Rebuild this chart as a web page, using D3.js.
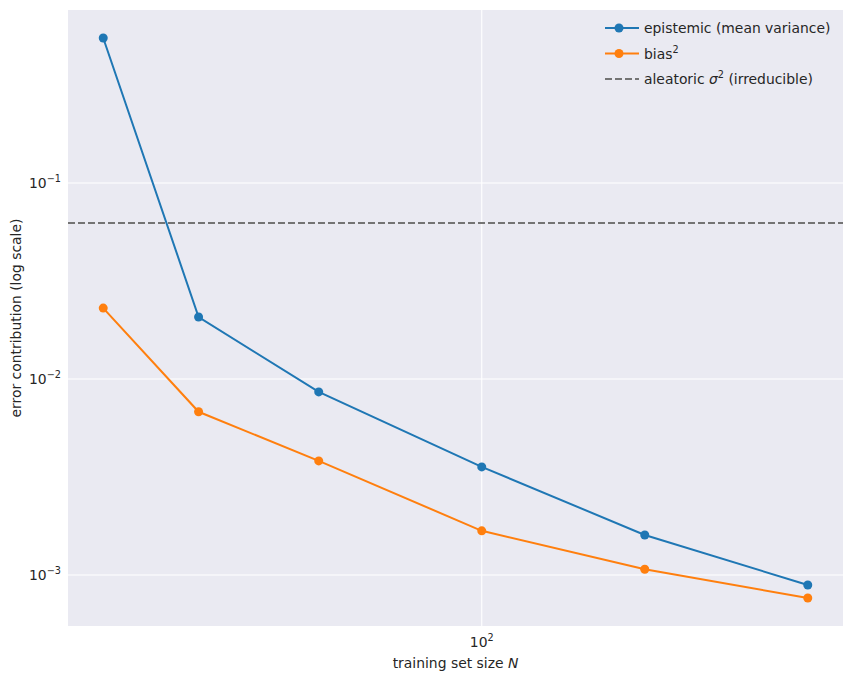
<!DOCTYPE html>
<html>
<head>
<meta charset="utf-8">
<script src="https://cdn.jsdelivr.net/npm/d3@7"></script>
<style>
  body { margin: 0; background: #fff; }
  text { font-family: "DejaVu Sans", sans-serif; fill: #262626; }
</style>
</head>
<body>
<div id="chart"></div>
<script>
// Data
const trainSizes = [20, 30, 50, 100, 200, 400];
const epistemic = [0.549, 0.0207, 0.00859, 0.00356, 0.0016, 0.000889];
const biasSq = [0.023, 0.0068, 0.00382, 0.00168, 0.00107, 0.000763];
const aleatoric = 0.0625;
const xTicks = [100];
const yTicks = [0.001, 0.01, 0.1];
const legendItems = [
    {label: "epistemic (mean variance)", sup: null, color: "#1f77b4", dashed: false},
    {label: "bias", sup: "2", color: "#ff7f0e", dashed: false},
    {label: "aleatoric ", sup: "2", sigma: true, tail: " (irreducible)", color: "#747474", dashed: true}
];

function drawChart() {
    const W = 852, H = 683;
    const fs = "13.9px", sfs = "9.7px";
    const margin = {top: 10, right: 9, bottom: 57, left: 68},
        width = W - margin.left - margin.right,
        height = H - margin.top - margin.bottom;

    const svg = d3.select("#chart").append("svg")
        .attr("width", W)
        .attr("height", H);

    const g = svg.append("g")
        .attr("transform", `translate(${margin.left},${margin.top})`);

    // log scales with 5% padding in log space, like matplotlib
    const pad = (lo, hi) => {
        const a = Math.log10(lo), b = Math.log10(hi), m = (b - a) * 0.05;
        return [Math.pow(10, a - m), Math.pow(10, b + m)];
    };
    const x = d3.scaleLog()
        .domain(pad(d3.min(trainSizes), d3.max(trainSizes)))
        .range([0, width]);
    const allY = epistemic.concat(biasSq);
    const y = d3.scaleLog()
        .domain(pad(d3.min(allY), d3.max(allY)))
        .range([height, 0]);

    // background
    g.append("rect")
        .attr("width", width)
        .attr("height", height)
        .attr("fill", "#eaeaf2");

    // grid
    g.selectAll(".gx").data(xTicks).enter().append("line")
        .attr("x1", d => x(d)).attr("x2", d => x(d))
        .attr("y1", 0).attr("y2", height)
        .attr("stroke", "#fff").attr("stroke-width", 1.1);
    g.selectAll(".gy").data(yTicks).enter().append("line")
        .attr("x1", 0).attr("x2", width)
        .attr("y1", d => y(d)).attr("y2", d => y(d))
        .attr("stroke", "#fff").attr("stroke-width", 1.1);

    // tick labels
    const xt = g.selectAll(".xt").data(xTicks).enter().append("text")
        .attr("x", d => x(d))
        .attr("y", height + 21)
        .attr("text-anchor", "middle")
        .style("font-size", fs);
    xt.append("tspan").text(d => "10");
    xt.append("tspan").attr("dy", -6).style("font-size", sfs)
        .text(d => Math.round(Math.log10(d)));

    const yt = g.selectAll(".yt").data(yTicks).enter().append("text")
        .attr("x", -7)
        .attr("y", d => y(d) + 5)
        .attr("text-anchor", "end")
        .style("font-size", fs);
    yt.append("tspan").text("10");
    yt.append("tspan").attr("dy", -6).style("font-size", sfs)
        .text(d => "\u2212" + Math.abs(Math.round(Math.log10(d))));

    // axis labels
    const xl = svg.append("text")
        .attr("x", margin.left + width / 2)
        .attr("y", 668)
        .attr("text-anchor", "middle")
        .style("font-size", fs);
    xl.append("tspan").text("training set size ");
    xl.append("tspan").style("font-style", "italic").text("N");

    svg.append("text")
        .attr("transform", `translate(21,${margin.top + height / 2}) rotate(-90)`)
        .attr("text-anchor", "middle")
        .style("font-size", fs)
        .text("error contribution (log scale)");

    // aleatoric line
    g.append("line")
        .attr("x1", 0).attr("x2", width)
        .attr("y1", y(aleatoric)).attr("y2", y(aleatoric))
        .attr("stroke", "#747474")
        .attr("stroke-width", 2)
        .attr("stroke-dasharray", "7,3");

    const line = d3.line()
        .x((d, i) => x(trainSizes[i]))
        .y(d => y(d));

    [[epistemic, "#1f77b4"], [biasSq, "#ff7f0e"]].forEach(([vals, c]) => {
        g.append("path")
            .datum(vals)
            .attr("d", line)
            .attr("fill", "none")
            .attr("stroke", c)
            .attr("stroke-width", 2);
        g.selectAll(null).data(vals).enter().append("circle")
            .attr("cx", (d, i) => x(trainSizes[i]))
            .attr("cy", d => y(d))
            .attr("r", 4.5)
            .attr("fill", c);
    });

    // legend
    const lg = svg.append("g").attr("transform", "translate(605,28)");
    legendItems.forEach((item, i) => {
        const row = lg.append("g").attr("transform", `translate(0,${i * 25.5})`);
        row.append("line")
            .attr("x1", 0).attr("x2", 34)
            .attr("stroke", item.color)
            .attr("stroke-width", 2)
            .attr("stroke-dasharray", item.dashed ? "7,3" : null);
        if (!item.dashed) {
            row.append("circle").attr("cx", 14).attr("r", 4.5).attr("fill", item.color);
        }
        const t = row.append("text")
            .attr("x", 39)
            .attr("y", 5)
            .style("font-size", fs);
        t.append("tspan").text(item.label);
        if (item.sigma) {
            t.append("tspan").style("font-style", "italic").text("\u03c3");
        }
        if (item.sup) {
            t.append("tspan").attr("dy", -6).style("font-size", sfs).text(item.sup);
        }
        if (item.tail) {
            t.append("tspan").attr("dy", 6).text(item.tail);
        }
    });
}

drawChart();
</script>
</body>
</html>
